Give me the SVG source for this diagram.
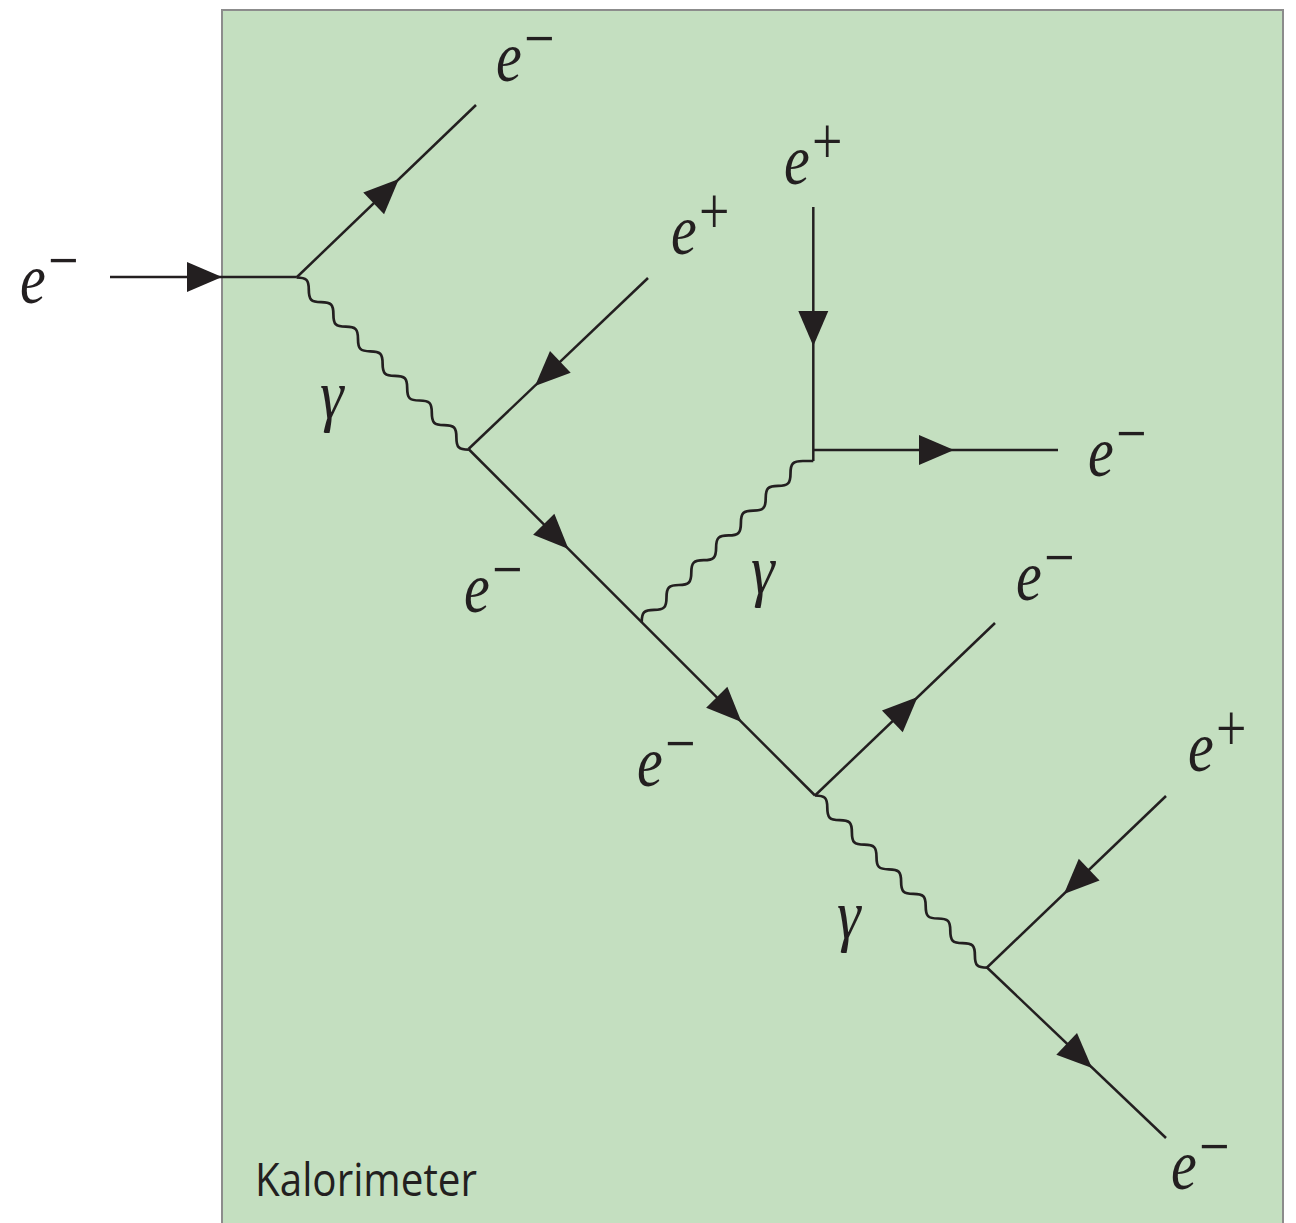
<svg xmlns="http://www.w3.org/2000/svg" xmlns:xlink="http://www.w3.org/1999/xlink" width="1296" height="1223" viewBox="0 0 1296 1223">
<style>
.ln{stroke:#231f20;stroke-width:2.5;fill:none;stroke-linecap:butt}
.ph{stroke:#231f20;stroke-width:2.7;fill:none;stroke-linejoin:round}
.ah{fill:#231f20;stroke:none}
</style>
<defs>
<path id="ah" d="M0,0 L-35,-15 L-35,15 Z"/>
</defs>
<g id="kalorimeter">
<rect x="222" y="10" width="1061" height="1220" fill="#c4dfc0" stroke="#8c8c8c" stroke-width="2"/>
<text x="255" y="1196" font-family="Open Sans, Noto Sans, sans-serif" font-size="45" fill="#231f20" textLength="222" lengthAdjust="spacingAndGlyphs">Kalorimeter</text>
</g>
<g id="connectors">
<path class="ln" d="M110,277 H296.5"/>
<path class="ln" d="M296.5,277.5 L476,105"/>
<path class="ln" d="M648,278 L468.5,449"/>
<path class="ln" d="M468.5,449 L815,795.5"/>
<path class="ln" d="M813.3,207 V461"/>
<path class="ln" d="M813.3,450 H1058"/>
<path class="ln" d="M815,795.5 L995,623"/>
<path class="ln" d="M1166,796 L987,967.5"/>
<path class="ln" d="M987,967.5 L1166,1138"/>
<path class="ph" d="M296.5,277.5 c10,0 12.3,2.3 12.3,12.3 s2.3,12.3 12.3,12.3 s12.3,2.3 12.3,12.3 s2.3,12.3 12.3,12.3 s12.3,2.3 12.3,12.3 s2.3,12.3 12.3,12.3 s12.3,2.3 12.3,12.3 s2.3,12.3 12.3,12.3 s12.3,2.3 12.3,12.3 s2.3,12.3 12.3,12.3 s12.3,2.3 12.3,12.3 s2.3,12.3 12.3,12.3 s12.3,2.3 12.3,12.3 s2.3,12.3 12.3,12.3"/>
<path class="ph" d="M815,795.5 c10,0 12.3,2.3 12.3,12.3 s2.3,12.3 12.3,12.3 s12.3,2.3 12.3,12.3 s2.3,12.3 12.3,12.3 s12.3,2.3 12.3,12.3 s2.3,12.3 12.3,12.3 s12.3,2.3 12.3,12.3 s2.3,12.3 12.3,12.3 s12.3,2.3 12.3,12.3 s2.3,12.3 12.3,12.3 s12.3,2.3 12.3,12.3 s2.3,12.3 12.3,12.3 s12.3,2.3 12.3,12.3 s2.3,12.3 12.3,12.3"/>
<path class="ph" d="M641.7,622.2 c0,-10 2.4,-12.4 12.4,-12.4 s12.4,-2.4 12.4,-12.4 s2.4,-12.4 12.4,-12.4 s12.4,-2.4 12.4,-12.4 s2.4,-12.4 12.4,-12.4 s12.4,-2.4 12.4,-12.4 s2.4,-12.4 12.4,-12.4 s12.4,-2.4 12.4,-12.4 s2.4,-12.4 12.4,-12.4 s12.4,-2.4 12.4,-12.4 s2.4,-12.4 12.4,-12.4 s12.4,-2.4 12.4,-12.4 s2.4,-12.4 12.4,-12.4 H813.3"/>
<use class="ah" xlink:href="#ah" href="#ah" transform="translate(222,277)"/>
<use class="ah" xlink:href="#ah" href="#ah" transform="translate(398.9,179.1) rotate(-43.86)"/>
<use class="ah" xlink:href="#ah" href="#ah" transform="translate(535,386) rotate(136.4)"/>
<use class="ah" xlink:href="#ah" href="#ah" transform="translate(568.5,549) rotate(45)"/>
<use class="ah" xlink:href="#ah" href="#ah" transform="translate(741.5,722) rotate(45)"/>
<use class="ah" xlink:href="#ah" href="#ah" transform="translate(917.6,697.1) rotate(-43.8)"/>
<use class="ah" xlink:href="#ah" href="#ah" transform="translate(1063.9,893.9) rotate(136.2)"/>
<use class="ah" xlink:href="#ah" href="#ah" transform="translate(1092,1068) rotate(43.6)"/>
<use class="ah" xlink:href="#ah" href="#ah" transform="translate(813.3,346) rotate(90)"/>
<use class="ah" xlink:href="#ah" href="#ah" transform="translate(954,450)"/>
</g>
<g id="labels" font-family="Liberation Serif, Times New Roman, serif" fill="#231f20">
<g id="label-e-in"><text font-style="italic" font-size="58" transform="translate(20,303) scale(1,1.25)">e<tspan font-style="normal" font-size="54" x="28" y="-16">−</tspan></text></g>
<g id="label-e-top"><text font-style="italic" font-size="58" transform="translate(496,81) scale(1,1.25)">e<tspan font-style="normal" font-size="54" x="28" y="-16">−</tspan></text></g>
<g id="label-ep-1"><text font-style="italic" font-size="58" transform="translate(671,254) scale(1,1.25)">e<tspan font-style="normal" font-size="54" x="28" y="-16">+</tspan></text></g>
<g id="label-ep-2"><text font-style="italic" font-size="58" transform="translate(784,184) scale(1,1.25)">e<tspan font-style="normal" font-size="54" x="28" y="-16">+</tspan></text></g>
<g id="label-e-right"><text font-style="italic" font-size="58" transform="translate(1088,476) scale(1,1.25)">e<tspan font-style="normal" font-size="54" x="28" y="-16">−</tspan></text></g>
<g id="label-e-mid1"><text font-style="italic" font-size="58" transform="translate(464,612) scale(1,1.25)">e<tspan font-style="normal" font-size="54" x="28" y="-16">−</tspan></text></g>
<g id="label-e-r2"><text font-style="italic" font-size="58" transform="translate(1016,600) scale(1,1.25)">e<tspan font-style="normal" font-size="54" x="28" y="-16">−</tspan></text></g>
<g id="label-e-mid2"><text font-style="italic" font-size="58" transform="translate(637,786) scale(1,1.25)">e<tspan font-style="normal" font-size="54" x="28" y="-16">−</tspan></text></g>
<g id="label-ep-3"><text font-style="italic" font-size="58" transform="translate(1188,771) scale(1,1.25)">e<tspan font-style="normal" font-size="54" x="28" y="-16">+</tspan></text></g>
<g id="label-e-out"><text font-style="italic" font-size="58" transform="translate(1171,1189) scale(1,1.25)">e<tspan font-style="normal" font-size="54" x="28" y="-16">−</tspan></text></g>
<g id="label-g1"><text font-style="italic" font-size="60" transform="translate(320,418) scale(1,1.15)">γ</text></g>
<g id="label-g2"><text font-style="italic" font-size="60" transform="translate(751,593) scale(1,1.15)">γ</text></g>
<g id="label-g3"><text font-style="italic" font-size="60" transform="translate(837,938) scale(1,1.15)">γ</text></g>
</g>
</svg>
